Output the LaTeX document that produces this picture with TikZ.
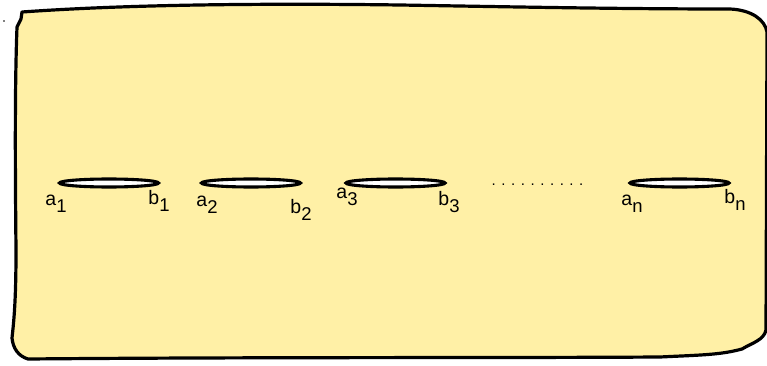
\documentclass[tikz,border=0pt]{standalone}
\usepackage{fontspec}
\usetikzlibrary{shapes.geometric}
\setmainfont{Liberation Sans}
\definecolor{pad}{RGB}{255,240,166}
% endpoint label: letter with a large lowered index
\newcommand\ptlab[2]{#1\raisebox{-6.5pt}{\fontsize{18.5}{18.5}\selectfont #2}}
\begin{document}
\begin{tikzpicture}[x=1pt,y=-1pt,
  outline/.style={line width=3.2pt,line join=round,fill=pad},
  hole/.style={draw,line width=3.1pt,fill=white,ellipse,inner sep=0pt,minimum width=99pt,minimum height=8pt},
  lbl/.style={font=\fontsize{19.5}{19.5}\selectfont,inner sep=0pt}]
\useasboundingbox (0,0) rectangle (767,366);
% hand-drawn sheet
\draw[outline] (22,12) .. controls (120,5) and (250,3) .. (400,5)
  .. controls (520,7) and (620,9) .. (730,9)
  .. controls (752,10) and (765,20) .. (767,32)
  -- (766,330)
  .. controls (764,340) and (752,343) .. (742,349)
  .. controls (720,355) and (700,355) .. (660,357)
  .. controls (500,358) and (250,357) .. (28,359)
  .. controls (18,356) and (13,348) .. (12,338)
  .. controls (14,320) and (16,300) .. (16,250)
  .. controls (15,150) and (15,80) .. (17,27)
  -- (21,19) -- cycle;
\fill (4,21) circle (0.9pt);
% the holes
\node[hole] (h1) at (109,183) {};
\node[hole] (h2) at (251,183) {};
\node[hole] (h3) at (395.5,183) {};
\node[hole] (hn) at (679.5,183) {};
\node[lbl] (a1) at (56,204) {\ptlab{a}{1}};
\node[lbl] (b1) at (159,201) {\ptlab{b}{1}};
\node[lbl] (a2) at (207,205) {\ptlab{a}{2}};
\node[lbl] (b2) at (301,210) {\ptlab{b}{2}};
\node[lbl] (a3) at (347,197) {\ptlab{a}{3}};
\node[lbl] (b3) at (449,202) {\ptlab{b}{3}};
\node[lbl] (an) at (632,204) {\ptlab{a}{n}};
\node[lbl] (bn) at (735,200) {\ptlab{b}{n}};
\node[font=\fontsize{15}{15}\selectfont,inner sep=0pt] (dots) at (537.5,185) {. . . . . . . . . .};
\end{tikzpicture}
\end{document}
